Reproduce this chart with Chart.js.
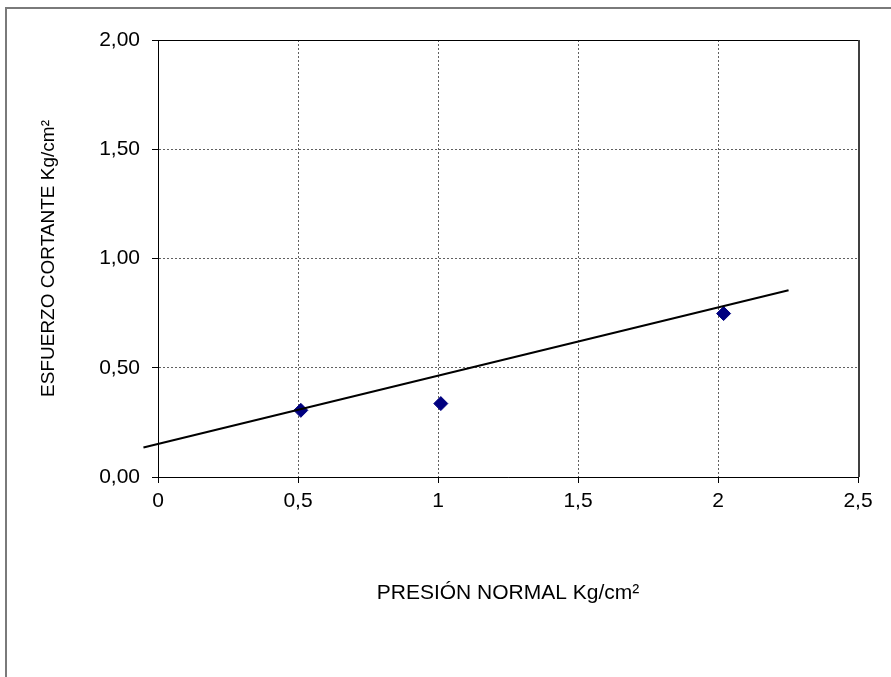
<!DOCTYPE html>
<html>
<head>
<meta charset="utf-8">
<title>Esfuerzo cortante</title>
<script src="https://cdn.jsdelivr.net/npm/chart.js@4/dist/chart.umd.min.js"></script>
<style>
  html, body { margin: 0; padding: 0; background: #fff; }
  #wrap { position: relative; width: 891px; height: 677px; }
</style>
</head>
<body>
<div id="wrap"><canvas id="corteChart"></canvas></div>
<script>
// ensayo de corte: presión normal vs esfuerzo cortante (Kg/cm2)
var presion = [0.51, 1.01, 2.02];
var esfuerzo = [0.305, 0.336, 0.748];

// extremos de la recta de tendencia
var tendenciaX = [-0.052, 2.252];
var tendenciaY = [0.135, 0.855];

var xTicks = ['0', '0,5', '1', '1,5', '2', '2,5'];
var yTicks = ['0,00', '0,50', '1,00', '1,50', '2,00'];

var puntos = presion.map(function (p, i) { return { x: p, y: esfuerzo[i] }; });
var recta = tendenciaX.map(function (p, i) { return { x: p, y: tendenciaY[i] }; });

var fuente = 'Liberation Sans, Arial, sans-serif';

// marco del gráfico y borde del área de trazado
var marco = {
  id: 'marco',
  beforeDraw: function (chart) {
    var ctx = chart.ctx;
    ctx.save();
    ctx.fillStyle = '#fff';
    ctx.fillRect(0, 0, chart.width, chart.height);
    ctx.restore();
  },
  afterDraw: function (chart) {
    var ctx = chart.ctx, a = chart.chartArea;
    ctx.save();
    ctx.strokeStyle = '#7a7a7a';
    ctx.lineWidth = 2;
    ctx.beginPath();
    ctx.moveTo(6, chart.height);
    ctx.lineTo(6, 8);
    ctx.lineTo(chart.width, 8);
    ctx.stroke();

    ctx.lineWidth = 1;
    ctx.strokeStyle = '#000';
    ctx.beginPath();
    ctx.moveTo(a.left, a.top + 0.5);
    ctx.lineTo(a.right, a.top + 0.5);
    ctx.stroke();
    ctx.strokeStyle = '#404040';
    ctx.lineWidth = 2;
    ctx.beginPath();
    ctx.moveTo(a.right + 1, a.top);
    ctx.lineTo(a.right + 1, a.bottom);
    ctx.stroke();
    ctx.restore();
  }
};

var config = {
  type: 'scatter',
  data: {
    datasets: [{
      type: 'line',
      label: 'Tendencia',
      data: recta,
      borderColor: '#000',
      borderWidth: 2,
      pointRadius: 0,
      fill: false,
      tension: 0,
      clip: false
    }, {
      label: 'Ensayo',
      data: puntos,
      pointStyle: 'rectRot',
      pointRadius: 7,
      backgroundColor: '#000080',
      borderColor: '#000080',
      borderWidth: 1
    }]
  },
  options: {
    responsive: true,
    maintainAspectRatio: false,
    animation: false,
    devicePixelRatio: 1,
    layout: { padding: { top: 40, right: 33, left: 0, bottom: 0 } },
    plugins: {
      legend: { display: false },
      tooltip: { enabled: false }
    },
    scales: {
      x: {
        type: 'linear',
        position: 'bottom',
        min: 0,
        max: 2.5,
        afterFit: function (s) { s.height = 200; },
        ticks: {
          stepSize: 0.5,
          padding: 6,
          color: '#000',
          font: { family: fuente, size: 21 },
          callback: function (v, i) { return xTicks[i]; }
        },
        grid: { color: '#606060', tickColor: '#000', tickLength: 6, lineWidth: 1 },
        border: { color: '#000', width: 1, dash: [2, 2] },
        title: {
          display: true,
          text: 'PRESIÓN NORMAL Kg/cm²',
          color: '#000',
          font: { family: fuente, size: 21 },
          padding: { top: 0, bottom: 71 }
        }
      },
      y: {
        type: 'linear',
        min: 0,
        max: 2,
        afterFit: function (s) { s.width = 158; },
        ticks: {
          stepSize: 0.5,
          padding: 12,
          color: '#000',
          font: { family: fuente, size: 21 },
          callback: function (v, i) { return yTicks[i]; }
        },
        grid: { color: '#606060', tickColor: '#000', tickLength: 6, lineWidth: 1 },
        border: { color: '#000', width: 1, dash: [2, 2] },
        title: {
          display: true,
          text: 'ESFUERZO CORTANTE Kg/cm²',
          color: '#000',
          font: { family: fuente, size: 19 },
          padding: { top: 37, bottom: 0 }
        }
      }
    }
  },
  plugins: [marco]
};

var corteChart = new Chart(document.getElementById('corteChart'), config);
</script>
</body>
</html>
